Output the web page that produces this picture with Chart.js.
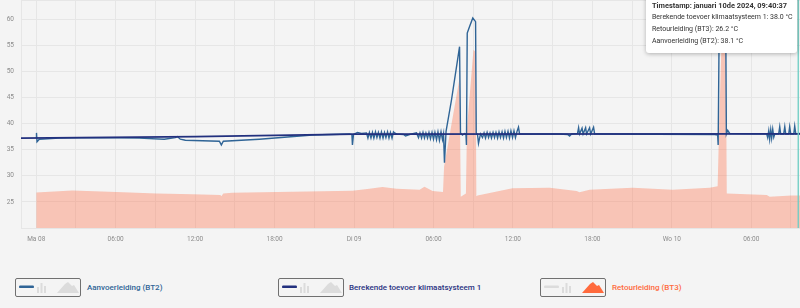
<!DOCTYPE html>
<html>
<head>
<meta charset="utf-8">
<script src="https://cdn.jsdelivr.net/npm/chart.js@4.4.1/dist/chart.umd.min.js"></script>
<style>
  body { margin: 0; width: 800px; height: 308px; overflow: hidden; position: relative; background: #f4f4f4; font-family: Roboto, sans-serif; }
  #wrap { position: absolute; left: 0; top: 0; width: 800px; height: 250px; }
  #tip { position: absolute; left: 646px; top: -8px; width: 151px; height: 61px; background: #fff; border-radius: 3px;
         box-shadow: 0 1px 4px rgba(0,0,0,0.28); font-size: 7px; color: #333; padding: 8px 0 0 6px; box-sizing: border-box; }
  #tip div { line-height: 11.9px; white-space: nowrap; }
  #tip .title { font-weight: 700; font-size: 7.4px; }
  .lg { position: absolute; top: 278px; width: 66px; height: 19px; box-sizing: border-box; border: 1.5px solid #707070; border-radius: 2px; }
  .lg svg { position: absolute; left: 0; top: 0; }
  .lt { position: absolute; top: 282px; font-size: 8px; font-weight: 500; line-height: 11px; white-space: nowrap; }
</style>
</head>
<body>
<div id="wrap"><canvas id="lineChart"></canvas></div>

<div id="tip">
  <div class="title">Timestamp: januari 10de 2024, 09:40:37</div>
  <div>Berekende toevoer klimaatsysteem 1: 38.0 °C</div>
  <div>Retourleiding (BT3): 26.2 °C</div>
  <div>Aanvoerleiding (BT2): 38.1 °C</div>
</div>

<div class="lg" style="left:15px"><svg width="63" height="16">
  <rect x="3" y="6.5" width="15" height="2.6" rx="1.2" fill="#2f6496"/>
  <rect x="21" y="8" width="2" height="6" fill="#dcdcdc"/><rect x="24.5" y="4" width="2" height="10" fill="#dcdcdc"/><rect x="28" y="7" width="2" height="7" fill="#dcdcdc"/>
  <polygon points="41,14 49,5 52,3 56,7 58,6 63,14" fill="#dcdcdc"/></svg></div>
<div class="lt" style="left:87px;color:#2f6496">Aanvoerleiding (BT2)</div>

<div class="lg" style="left:278px"><svg width="63" height="16">
  <rect x="3" y="6.5" width="15" height="2.6" rx="1.2" fill="#22307e"/>
  <rect x="21" y="8" width="2" height="6" fill="#dcdcdc"/><rect x="24.5" y="4" width="2" height="10" fill="#dcdcdc"/><rect x="28" y="7" width="2" height="7" fill="#dcdcdc"/>
  <polygon points="41,14 49,5 52,3 56,7 58,6 63,14" fill="#dcdcdc"/></svg></div>
<div class="lt" style="left:349px;color:#2a3382">Berekende toevoer klimaatsysteem 1</div>

<div class="lg" style="left:540px"><svg width="63" height="16">
  <rect x="3" y="6.5" width="15" height="2.6" rx="1.2" fill="#dcdcdc"/>
  <rect x="21" y="8" width="2" height="6" fill="#dcdcdc"/><rect x="24.5" y="4" width="2" height="10" fill="#dcdcdc"/><rect x="28" y="7" width="2" height="7" fill="#dcdcdc"/>
  <polygon points="41,14 49,5 52,3 56,7 58,6 63,14" fill="#ff6a3d"/></svg></div>
<div class="lt" style="left:612px;color:#ff6a3d">Retourleiding (BT3)</div>

<script>
// hours counted from Ma 08 00:00
var xTickHours = [0, 6, 12, 18, 24, 30, 36, 42, 48, 54];
var xTickLabels = ["Ma 08", "06:00", "12:00", "18:00", "Di 09", "06:00", "12:00", "18:00", "Wo 10", "06:00"];
var xMin = -1.15;
var xMax = 57.68;
var hoverHour = 57.55;

var berekendeHours = [-1.15, 12, 24, 57.68];
var berekendeValues = [37.2, 37.5, 37.95, 38.0];

var aanvoerHours = [
  0.00, 0.02, 0.06, 0.23, 1.74, 4.76, 7.78, 9.67, 10.50, 10.66, 10.88, 11.26, 13.83, 13.98, 14.13, 16.85, 20.86,
  23.65, 23.84, 23.88, 23.96, 24.26, 24.56, 24.94,
  25.05, 25.16, 25.28, 25.39, 25.50, 25.62, 25.73, 25.84, 25.96, 26.07, 26.19, 26.30, 26.41, 26.53, 26.64, 26.75, 26.87, 26.98,
  27.06, 27.21, 27.74, 27.89, 28.19, 28.72,
  28.87, 28.98, 29.10, 29.21, 29.32, 29.43, 29.55, 29.66, 29.77, 29.89, 30.00, 30.11, 30.23, 30.34, 30.45, 30.57, 30.68,
  30.76, 30.83, 30.95, 31.36, 31.97, 32.04, 32.19, 32.34, 32.45, 32.49, 32.55, 32.72, 32.97, 33.18, 33.23, 33.33, 33.40, 33.55,
  33.70, 33.82, 33.93, 34.05, 34.16, 34.27, 34.38, 34.50, 34.61, 34.72, 34.84, 34.95, 35.06, 35.18, 35.29, 35.40, 35.51, 35.63,
  35.74, 35.85, 35.97, 36.08, 36.19, 36.31, 36.42, 36.50, 39.52,
  40.13, 40.28, 40.43, 40.88, 40.96, 41.03, 41.22, 41.30, 41.49, 41.56, 41.79, 41.87, 42.09, 42.17, 42.55,
  51.24, 51.46, 51.50, 51.58, 51.77, 52.07, 52.12, 52.22, 52.37,
  55.17, 55.24, 55.32, 55.39, 55.47, 55.54, 55.62, 55.70, 55.77, 56.07, 56.15, 56.22, 56.45, 56.53, 56.60, 56.83, 56.90, 56.98,
  57.21, 57.28, 57.36, 57.68
];
var aanvoerValues = [
  37.2, 38.2, 36.5, 37.0, 37.2, 37.3, 37.2, 37.0, 37.3, 37.5, 37.0, 36.8, 36.6, 35.9, 36.6, 37.0, 37.8,
  38.0, 37.9, 35.9, 37.9, 38.3, 38.1, 38.2,
  37.2, 38.3, 37.2, 38.3, 37.2, 38.4, 37.3, 38.3, 37.2, 38.4, 37.2, 38.3, 37.3, 38.4, 37.2, 38.3, 37.2, 38.4,
  38.2, 38.0, 37.9, 37.6, 37.9, 38.2,
  37.3, 38.2, 37.2, 38.3, 37.2, 38.2, 37.2, 38.3, 37.1, 38.3, 37.0, 38.3, 36.9, 38.4, 36.8, 38.4, 36.9,
  38.0, 32.5, 38.5, 44.5, 54.7, 38.2, 37.8, 38.1, 38.0, 35.9, 57.3, 58.5, 60.2, 59.5, 38.2, 37.8, 36.2, 38.0,
  37.3, 38.2, 37.2, 38.3, 37.3, 38.2, 37.2, 38.3, 37.3, 38.3, 37.2, 38.4, 37.3, 38.4, 37.2, 38.5, 37.3, 38.5,
  37.2, 38.6, 37.3, 38.6, 37.3, 38.5, 39.3, 38.0, 38.0,
  37.9, 37.6, 38.0, 38.1, 39.2, 38.0, 39.1, 38.0, 39.2, 38.0, 39.2, 38.0, 39.3, 38.0, 38.0,
  37.9, 37.8, 35.9, 59.5, 61.0, 60.5, 38.0, 38.7, 38.1,
  38.0, 37.3, 38.6, 37.0, 38.8, 37.2, 38.9, 37.4, 38.0, 38.0, 39.4, 38.0, 38.0, 39.4, 38.0, 38.0, 39.4, 38.0,
  38.0, 39.5, 38.0, 38.1
];

var retourHours = [
  0.00, 2.72, 6.05, 9.07, 11.79, 13.91, 13.98, 14.13, 14.81, 23.88, 25.16, 26.15, 27.21, 28.95, 29.32, 29.93,
  30.72, 30.80, 31.97, 32.06, 32.45, 32.53, 33.02, 33.18, 33.24, 33.33, 35.97, 38.77, 40.81, 41.03, 41.79,
  45.04, 48.06, 50.86, 51.46, 51.58, 51.77, 52.07, 52.15, 55.17, 55.39, 57.05, 57.68
];
var retourValues = [
  26.8, 27.2, 26.9, 26.6, 26.45, 26.3, 26.1, 26.6, 26.75, 27.15, 27.5, 27.85, 27.5, 27.3, 27.9, 27.1,
  26.9, 31.7, 48.7, 26.0, 26.6, 39.0, 54.1, 53.7, 26.1, 26.2, 27.6, 27.7, 27.1, 26.85, 27.3,
  27.7, 27.3, 27.7, 28.0, 40.0, 57.0, 57.5, 26.6, 26.3, 26.0, 26.2, 26.2
];

function toPoints(hours, values) {
  return hours.map(function (h, i) {
    return { x: h, y: values[i] };
  });
}

// vertical hover line at the tooltip time
var hoverLine = {
  id: "hoverLine",
  afterDatasetsDraw: function (chart) {
    var ctx = chart.ctx;
    var x = chart.scales.x.getPixelForValue(hoverHour);
    ctx.save();
    ctx.strokeStyle = "rgba(110,205,195,0.9)";
    ctx.lineWidth = 1.5;
    ctx.beginPath();
    ctx.moveTo(x, chart.chartArea.top);
    ctx.lineTo(x, chart.chartArea.bottom);
    ctx.stroke();
    ctx.restore();
  },
};

var ctxLine = document.getElementById("lineChart").getContext("2d");
var tickFont = { family: "Roboto", size: 6.5 };

new Chart(ctxLine, {
  type: "line",
  data: {
    datasets: [
      {
        label: "Berekende toevoer klimaatsysteem 1",
        data: toPoints(berekendeHours, berekendeValues),
        borderColor: "#22307e",
        borderWidth: 1.8,
        pointRadius: 0,
        fill: false,
        order: 0,
      },
      {
        label: "Aanvoerleiding (BT2)",
        data: toPoints(aanvoerHours, aanvoerValues),
        borderColor: "#2f6496",
        borderWidth: 1.4,
        pointRadius: 0,
        fill: false,
        order: 1,
      },
      {
        label: "Retourleiding (BT3)",
        data: toPoints(retourHours, retourValues),
        borderColor: "rgba(255,107,67,0)",
        borderWidth: 0,
        backgroundColor: "rgba(255,107,67,0.35)",
        pointRadius: 0,
        fill: "start",
        order: 2,
      },
    ],
  },
  options: {
    responsive: true,
    maintainAspectRatio: false,
    animation: false,
    layout: { padding: { top: 0, right: 0, bottom: 0, left: 0 } },
    plugins: { legend: { display: false }, tooltip: { enabled: false } },
    scales: {
      x: {
        type: "linear",
        min: xMin,
        max: xMax,
        grid: { color: "#e6e6e6", drawTicks: false },
        border: { color: "#e6e6e6" },
        ticks: {
          stepSize: 3,
          includeBounds: false,
          autoSkip: false,
          maxRotation: 0,
          padding: 7,
          color: "#8c8c8c",
          font: tickFont,
          callback: function (value) {
            for (var i = 0; i < xTickHours.length; i++) {
              if (Math.abs(value - xTickHours[i]) < 0.01) return xTickLabels[i];
            }
            return "";
          },
        },
        afterFit: function (scale) {
          scale.height = 22;
          scale.paddingLeft = 0;
          scale.paddingRight = 0;
        },
      },
      y: {
        min: 20,
        max: 63.64,
        grid: { color: "#e6e6e6", drawTicks: false },
        border: { color: "#e6e6e6" },
        ticks: {
          stepSize: 5,
          padding: 7,
          color: "#8c8c8c",
          font: tickFont,
          callback: function (value) {
            return value > 20 && value % 5 === 0 ? value : "";
          },
        },
        afterFit: function (scale) {
          scale.width = 21;
          scale.paddingTop = 0;
          scale.paddingBottom = 0;
        },
      },
    },
  },
  plugins: [hoverLine],
});
</script>
</body>
</html>
